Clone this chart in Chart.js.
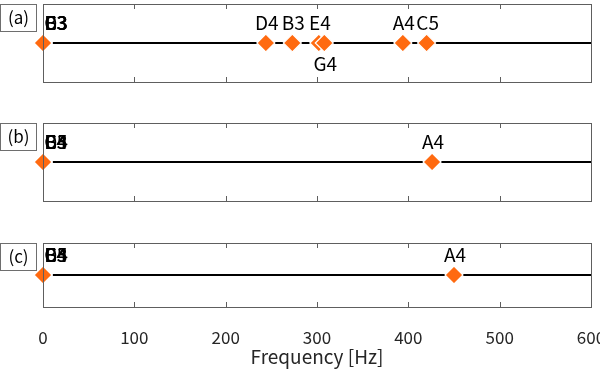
<!DOCTYPE html>
<html lang="en">
<head>
<meta charset="UTF-8">
<title>Frequency</title>
<script src="https://cdn.jsdelivr.net/npm/chart.js"></script>
<style>
  html, body { margin: 0; padding: 0; overflow: hidden; background: #fff; }
  body { width: 600px; height: 369px; position: relative; }
  .panel { position: absolute; left: 0; width: 620px; }
</style>
</head>
<body>
<div class="panel" style="top:0;height:100px"><canvas id="chartA"></canvas></div>
<div class="panel" style="top:119px;height:100px"><canvas id="chartB"></canvas></div>
<div class="panel" style="top:239px;height:130px"><canvas id="chartC"></canvas></div>
<script>
// panel (a): note names, estimated frequency [Hz], label above/below
const notesA = ['C3', 'E3', 'G3', 'D3', 'B3', 'D4', 'B3', 'E4', 'G4', 'A4', 'C5'];
const freqA  = [0, 0, 0, 0, 0, 244, 273, 302, 308, 394, 420];
const sideA  = ['up', 'up', 'up', 'up', 'up', 'up', 'up', 'up', 'down', 'up', 'up'];

// panel (b)
const notesB = ['C5', 'D4', 'E4', 'G4', 'B3', 'A4'];
const freqB  = [0, 0, 0, 0, 0, 426];
const sideB  = ['up', 'up', 'up', 'up', 'up', 'up'];

// panel (c)
const notesC = ['C5', 'D4', 'E4', 'G4', 'B3', 'A4'];
const freqC  = [0, 0, 0, 0, 0, 450];
const sideC  = ['up', 'up', 'up', 'up', 'up', 'up'];

const xRange = [0, 600];
const xTicks = [0, 100, 200, 300, 400, 500, 600];

const FONT = '"Noto Sans CJK JP", "Noto Sans", sans-serif';
const ORANGE = '#FF6A10';

// frame box, inner ticks, panel tag and note labels
const decor = {
    id: 'decor',
    afterDatasetsDraw(chart, args, opts) {
        const ctx = chart.ctx;
        const a = chart.chartArea;
        const xs = chart.scales.x;
        const ys = chart.scales.y;

        ctx.save();
        // note labels (the ones at 0 Hz sit a bit right of the axis)
        ctx.fillStyle = '#000';
        ctx.font = '19px ' + FONT;
        ctx.textAlign = 'center';
        ctx.textBaseline = 'middle';
        opts.notes.forEach((n, i) => {
            const px = Math.max(xs.getPixelForValue(opts.freqs[i]) + 1, a.left + 13);
            const py = ys.getPixelForValue(0);
            const dy = opts.sides[i] === 'up' ? -20 : 21;
            ctx.fillText(n, px, py + dy);
        });

        // frame
        ctx.strokeStyle = '#5e5e5e';
        ctx.lineWidth = 1;
        ctx.strokeRect(Math.round(a.left) + 0.5, Math.round(a.top) + 0.5,
            Math.round(a.right - a.left), Math.round(a.bottom - a.top));
        ctx.beginPath();
        xTicks.forEach(t => {
            const px = Math.round(xs.getPixelForValue(t)) + 0.5;
            ctx.moveTo(px, a.top);
            ctx.lineTo(px, a.top + 5);
            ctx.moveTo(px, a.bottom);
            ctx.lineTo(px, a.bottom - 5);
        });
        ctx.stroke();

        // panel tag
        ctx.strokeStyle = '#6e6e6e';
        ctx.strokeRect(0.5, Math.round(a.top) + 0.5, 36, 27);
        ctx.font = '17px ' + FONT;
        ctx.fillStyle = '#000';
        ctx.fillText(opts.tag, 18.5, a.top + 14);
        ctx.restore();
    }
};

function makeChart(id, tag, notes, freqs, sides, showAxis) {
    const points = freqs.map(f => ({ x: f, y: 0 }));
    const line = xRange.map(f => ({ x: f, y: 0 }));
    return new Chart(document.getElementById(id), {
        type: 'scatter',
        data: {
            datasets: [
                {
                    data: points,
                    order: 0,
                    clip: false,
                    pointStyle: 'rectRot',
                    pointRadius: 9,
                    pointBackgroundColor: ORANGE,
                    pointBorderColor: '#fff',
                    pointBorderWidth: 1.2,
                    showLine: false
                },
                {
                    data: line,
                    order: 1,
                    showLine: true,
                    borderColor: '#000',
                    borderWidth: 2,
                    pointRadius: 0
                }
            ]
        },
        plugins: [decor],
        options: {
            responsive: true,
            maintainAspectRatio: false,
            animation: false,
            events: [],
            layout: {
                autoPadding: false,
                padding: showAxis
                    ? { left: 43, right: 29, top: 4, bottom: 3 }
                    : { left: 43, right: 29, top: 4, bottom: 18 }
            },
            scales: {
                x: {
                    type: 'linear',
                    min: xRange[0],
                    max: xRange[1],
                    display: showAxis,
                    grid: { display: false },
                    border: { display: false },
                    ticks: {
                        stepSize: 100,
                        padding: 14,
                        color: '#262626',
                        font: { family: FONT, size: 17, lineHeight: 1 }
                    },
                    title: {
                        display: true,
                        text: 'Frequency [Hz]',
                        color: '#262626',
                        padding: { top: -13, bottom: 0 },
                        font: { family: FONT, size: 19, lineHeight: 1 }
                    }
                },
                y: {
                    min: -1,
                    max: 1,
                    display: false
                }
            },
            plugins: {
                legend: { display: false },
                tooltip: { enabled: false },
                decor: { tag: tag, notes: notes, freqs: freqs, sides: sides }
            }
        }
    });
}

makeChart('chartA', '(a)', notesA, freqA, sideA, false);
makeChart('chartB', '(b)', notesB, freqB, sideB, false);
makeChart('chartC', '(c)', notesC, freqC, sideC, true);
</script>
</body>
</html>
